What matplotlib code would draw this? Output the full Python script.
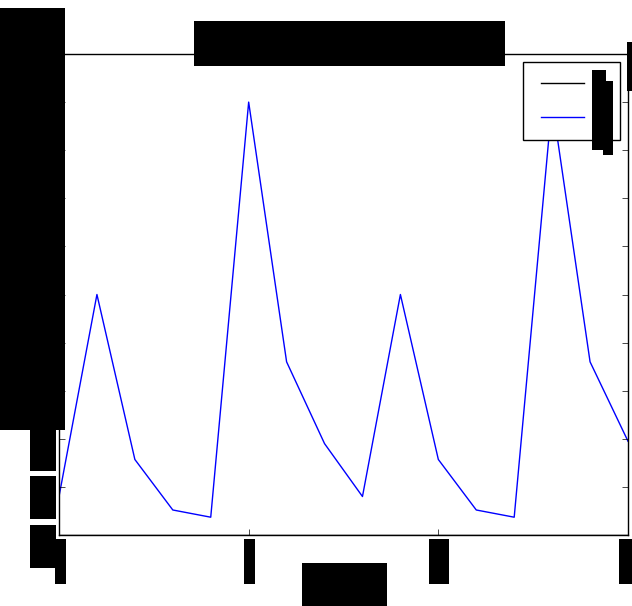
"""Pulse train line chart, classic matplotlib look, labels drawn as solid blocks."""

import matplotlib

matplotlib.use("Agg")
import matplotlib.pyplot as plt
from matplotlib.path import Path

x_values = list(range(16))
pulse = [0.8, 5.0, 1.57, 0.52, 0.37, 9.0, 3.6, 1.9,
         0.8, 5.0, 1.57, 0.52, 0.37, 9.0, 3.6, 1.95]
baseline = [0.0] * 16
x_ticks = [0, 5, 10, 15]
y_ticks = list(range(11))
series_labels = ["a", "b"]

# width of the block behind each x tick label (pixels)
x_block_w = [11, 11, 20, 20]


def block(w, h, dx=0.0, dy=0.0):
    """Box style: solid w x h pixel block around the text centre."""

    def style(x0, y0, width, height, mutation_size):
        cx = x0 + width / 2 + dx
        cy = y0 + height / 2 + dy
        l, r = cx - w / 2, cx + w / 2
        b, t = cy - h / 2, cy + h / 2
        return Path([(l, b), (r, b), (r, t), (l, t), (l, b)], closed=True)

    return style


def boxed(txt, style):
    txt.set_color("black")
    txt.set_bbox(dict(boxstyle=style, facecolor="black", edgecolor="none"))


def main():
    plt.style.use("classic")
    fig = plt.figure(figsize=(6.32, 6.06), dpi=100, facecolor="white")
    ax = fig.add_axes([59 / 632, 71 / 606, 569 / 632, 481 / 606])

    ax.plot(x_values, baseline, color="k", lw=1.0, label=series_labels[0])
    ax.plot(x_values, pulse, color="b", lw=1.0, label=series_labels[1])
    ax.set_xlim(0, 15)
    ax.set_ylim(0, 10)
    ax.set_xticks(x_ticks)
    ax.set_yticks(y_ticks)
    ax.tick_params(axis="y", pad=11.5)
    ax.tick_params(axis="x", pad=19)

    for lab in ax.get_yticklabels():
        lab.set_ha("center")
        boxed(lab, block(26, 43, dy=-11))
    for lab, w in zip(ax.get_xticklabels(), x_block_w):
        lab.set_va("center")
        boxed(lab, block(w, 45, dx=1))

    title = ax.set_title("Repeating pulse train", x=0.5105, y=1.022, pad=0, va="center")
    boxed(title, block(311, 45))

    ax.set_xlabel("Sample", va="center")
    ax.xaxis.set_label_coords(0.5018, -0.1029)
    boxed(ax.xaxis.label, block(85, 43))

    ax.set_ylabel("Amplitude", va="center")
    ax.yaxis.set_label_coords(-0.0466, 0.657)
    boxed(ax.yaxis.label, block(422, 65))

    leg = ax.legend(loc="upper right", fontsize=12, handlelength=3.2,
                    handletextpad=0.45, borderpad=0.75, labelspacing=0.98,
                    borderaxespad=0.5)
    leg_texts = leg.get_texts()
    boxed(leg_texts[0], block(14, 80, dx=-3, dy=-26))
    boxed(leg_texts[1], block(10, 74, dx=6, dy=0))

    note = fig.text(631.7 / 632, 1 - 66.2 / 606, "*", ha="center", va="center")
    boxed(note, block(10, 49))

    fig.savefig("out.png", dpi=100, facecolor="white")


if __name__ == "__main__":
    main()
